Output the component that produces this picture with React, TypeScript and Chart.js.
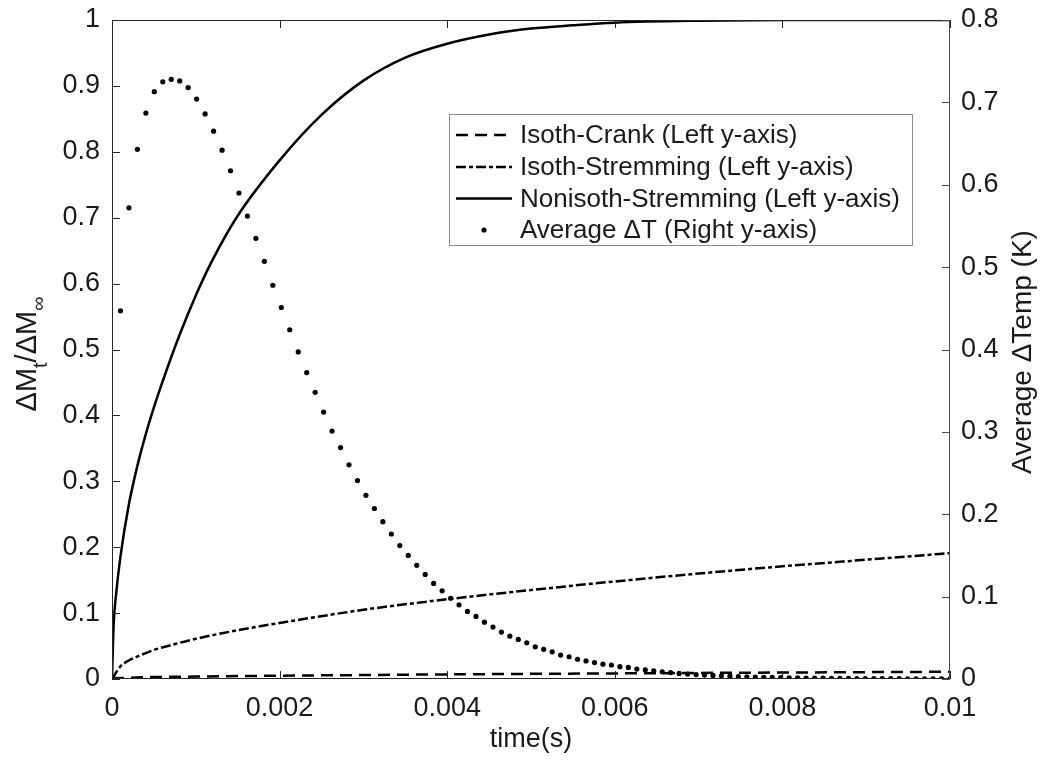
import { useEffect, useRef } from 'react';
import { Chart, registerables } from 'chart.js';

Chart.register(...registerables);

const FONT = '"Liberation Sans", Arial, Helvetica, sans-serif';
const INK = '#1a1a1a';

// Isoth-Crank uptake (left axis)
const crankTimes = [0, 0.0005, 0.001, 0.002, 0.003, 0.004, 0.005, 0.006, 0.007, 0.008, 0.009, 0.01];
const crankValues = [0.001, 0.003, 0.0037, 0.005, 0.006, 0.007, 0.0078, 0.0085, 0.0092, 0.0098, 0.0104, 0.011];

// Isoth-Stremming uptake (left axis)
const isoTimes = [0, 0.0001, 0.0002, 0.0003, 0.0005, 0.00075, 0.001, 0.0015, 0.002, 0.003, 0.004, 0.005, 0.006, 0.007, 0.008, 0.009, 0.01];
const isoValues = [0, 0.019, 0.028, 0.034, 0.044, 0.053, 0.061, 0.074, 0.085, 0.105, 0.121, 0.135, 0.148, 0.16, 0.171, 0.181, 0.191];

// Nonisoth-Stremming uptake (left axis)
const nonisoTimes = [0, 0.00002, 0.00005, 0.0001, 0.0002, 0.0003, 0.0004, 0.0005, 0.0006, 0.0008, 0.001, 0.0012, 0.0015, 0.002, 0.0025, 0.003, 0.0035, 0.004, 0.0045, 0.005, 0.0055, 0.006, 0.007, 0.008, 0.009, 0.01];
const nonisoValues = [0, 0.083, 0.13, 0.185, 0.264, 0.322, 0.37, 0.412, 0.45, 0.52, 0.582, 0.636, 0.703, 0.787, 0.856, 0.908, 0.943, 0.964, 0.978, 0.987, 0.992, 0.996, 0.999, 1, 1, 1];

// Average temperature rise (right axis), sampled on an even grid over 0..0.01 s
const TEMP_STEP = 0.01 / 99;
const tempValues = [
  0, 0.447, 0.572, 0.643, 0.687, 0.713, 0.725, 0.728, 0.726, 0.718,
  0.704, 0.686, 0.665, 0.642, 0.617, 0.59, 0.562, 0.535, 0.507, 0.478,
  0.451, 0.424, 0.397, 0.372, 0.348, 0.324, 0.301, 0.281, 0.26, 0.241,
  0.223, 0.207, 0.191, 0.176, 0.162, 0.15, 0.138, 0.127, 0.116, 0.107,
  0.098, 0.09, 0.082, 0.076, 0.069, 0.063, 0.057, 0.052, 0.048, 0.044,
  0.039, 0.036, 0.033, 0.029, 0.027, 0.024, 0.022, 0.02, 0.018, 0.017,
  0.015, 0.014, 0.012, 0.011, 0.01, 0.0088, 0.0078, 0.0068, 0.006, 0.0054,
  0.0048, 0.0043, 0.0038, 0.0034, 0.003, 0.0027, 0.0024, 0.0021, 0.0019, 0.0017,
  0.0015, 0.0013, 0.0012, 0.0011, 0.001, 0.0009, 0.0008, 0.0007, 0.0006, 0.0006,
  0.0005, 0.0005, 0.0004, 0.0004, 0.0003, 0.0003, 0.0003, 0.0002, 0.0002, 0.0002,
];

const seriesNames = [
  'Isoth-Crank (Left y-axis)',
  'Isoth-Stremming (Left y-axis)',
  'Nonisoth-Stremming (Left y-axis)',
  'Average \u0394T (Right y-axis)',
];

const xTickStep = 0.002;
const leftTickStep = 0.1;
const rightTickStep = 0.1;

const DASHED = [12, 7];
const DASH_DOT = [10, 3, 4, 3];

const pairs = (xs: number[], ys: number[]) => xs.map((x, i) => ({ x, y: ys[i] }));
const fmt = (v: number) => String(Number(Number(v).toFixed(4)));

// Box frame, inward tick marks, axis titles and legend, drawn over the plot
const decorations = {
  id: 'decorations',
  afterDatasetsDraw(chart: any) {
    const { ctx, chartArea: a, scales } = chart;
    const tick = 8;
    ctx.save();

    // frame
    ctx.lineWidth = 1;
    ctx.strokeStyle = '#262626';
    ctx.beginPath();
    ctx.moveTo(a.left + 0.5, a.top + 0.5);
    ctx.lineTo(a.right - 0.5, a.top + 0.5);
    ctx.moveTo(a.left + 0.5, a.top);
    ctx.lineTo(a.left + 0.5, a.bottom);
    ctx.moveTo(a.left, a.bottom - 0.5);
    ctx.lineTo(a.right, a.bottom - 0.5);
    ctx.stroke();
    ctx.strokeStyle = '#4a4a4a';
    ctx.beginPath();
    ctx.moveTo(a.right - 0.5, a.top);
    ctx.lineTo(a.right - 0.5, a.bottom);
    ctx.stroke();

    // inward ticks
    ctx.strokeStyle = '#262626';
    ctx.beginPath();
    for (const t of scales.x.ticks) {
      const px = Math.round(scales.x.getPixelForValue(t.value)) + 0.5;
      ctx.moveTo(px, a.bottom);
      ctx.lineTo(px, a.bottom - tick);
      ctx.moveTo(px, a.top);
      ctx.lineTo(px, a.top + tick);
    }
    for (const t of scales.y.ticks) {
      const py = Math.round(scales.y.getPixelForValue(t.value)) + 0.5;
      ctx.moveTo(a.left, py);
      ctx.lineTo(a.left + tick, py);
    }
    ctx.stroke();
    ctx.strokeStyle = '#4a4a4a';
    ctx.beginPath();
    for (const t of scales.y1.ticks) {
      const py = Math.round(scales.y1.getPixelForValue(t.value)) + 0.5;
      ctx.moveTo(a.right, py);
      ctx.lineTo(a.right - tick, py);
    }
    ctx.stroke();

    // axis titles
    ctx.fillStyle = INK;
    ctx.textBaseline = 'alphabetic';
    ctx.textAlign = 'center';
    ctx.font = `27px ${FONT}`;
    ctx.fillText('time(s)', (a.left + a.right) / 2, 747);

    // left title with subscripts
    const parts = [
      { t: '\u0394M', s: 29, d: 0 },
      { t: 't', s: 20, d: 11 },
      { t: '/\u0394M', s: 29, d: 0 },
      { t: '\u221E', s: 20, d: 9 },
    ];
    ctx.save();
    ctx.translate(36, 354);
    ctx.rotate(-Math.PI / 2);
    ctx.textAlign = 'left';
    let total = 0;
    for (const p of parts) {
      ctx.font = `${p.s}px ${FONT}`;
      total += ctx.measureText(p.t).width;
    }
    let cx = -total / 2;
    for (const p of parts) {
      ctx.font = `${p.s}px ${FONT}`;
      ctx.fillText(p.t, cx, p.d);
      cx += ctx.measureText(p.t).width;
    }
    ctx.restore();

    // right title
    ctx.save();
    ctx.translate(1031, 352);
    ctx.rotate(-Math.PI / 2);
    ctx.textAlign = 'center';
    ctx.font = `28px ${FONT}`;
    ctx.fillText('Average \u0394Temp (K)', 0, 0);
    ctx.restore();

    // legend
    const box = { x: 449.5, y: 114.5, w: 463, h: 131 };
    ctx.fillStyle = '#ffffff';
    ctx.fillRect(box.x, box.y, box.w, box.h);
    ctx.strokeStyle = '#8c8c8c';
    ctx.lineWidth = 1;
    ctx.strokeRect(box.x, box.y, box.w, box.h);
    const rows = [135, 167, 198.5, 230];
    const sx0 = 456;
    const sx1 = 512;
    ctx.strokeStyle = '#000';
    ctx.lineWidth = 2.5;
    const dashes = [DASHED, DASH_DOT, []];
    for (let i = 0; i < 3; i++) {
      ctx.setLineDash(dashes[i]);
      ctx.beginPath();
      ctx.moveTo(sx0, rows[i]);
      ctx.lineTo(sx1, rows[i]);
      ctx.stroke();
    }
    ctx.setLineDash([]);
    ctx.fillStyle = '#000';
    ctx.beginPath();
    ctx.arc((sx0 + sx1) / 2, rows[3], 2.6, 0, Math.PI * 2);
    ctx.fill();
    ctx.fillStyle = INK;
    ctx.font = `26px ${FONT}`;
    ctx.textAlign = 'left';
    ctx.textBaseline = 'middle';
    seriesNames.forEach((name, i) => ctx.fillText(name, 520, rows[i] + 1));

    ctx.restore();
  },
};

export default function App() {
  const canvasRef = useRef<HTMLCanvasElement | null>(null);

  useEffect(() => {
    const canvas = canvasRef.current;
    if (!canvas) return;
    const tickFont = { family: FONT, size: 27 };
    const lineCommon = {
      borderColor: '#000',
      backgroundColor: '#000',
      borderWidth: 2.5,
      pointRadius: 0,
      fill: false,
      cubicInterpolationMode: 'monotone' as const,
      yAxisID: 'y',
    };
    const chart = new Chart(canvas, {
      type: 'line',
      data: {
        datasets: [
          { ...lineCommon, label: seriesNames[0], data: pairs(crankTimes, crankValues), borderDash: DASHED },
          { ...lineCommon, label: seriesNames[1], data: pairs(isoTimes, isoValues), borderDash: DASH_DOT },
          { ...lineCommon, label: seriesNames[2], data: pairs(nonisoTimes, nonisoValues) },
          {
            label: seriesNames[3],
            data: tempValues.map((v, i) => ({ x: i * TEMP_STEP, y: v })),
            showLine: false,
            pointRadius: 2.6,
            pointBorderWidth: 0,
            pointBackgroundColor: '#000',
            borderColor: '#000',
            yAxisID: 'y1',
          },
        ],
      },
      options: {
        animation: false,
        responsive: false,
        maintainAspectRatio: false,
        events: [],
        layout: { padding: { top: 20, left: 0, right: 0, bottom: 0 } },
        plugins: { legend: { display: false }, tooltip: { enabled: false } },
        scales: {
          x: {
            type: 'linear',
            min: 0,
            max: 0.01,
            grid: { display: false, drawTicks: false },
            border: { display: false },
            ticks: { stepSize: xTickStep, font: tickFont, color: INK, padding: 13, maxRotation: 0, callback: (v: any) => fmt(v) },
            afterFit: (s: any) => { s.height = 89; s.paddingLeft = 0; s.paddingRight = 0; },
          },
          y: {
            position: 'left',
            min: 0,
            max: 1,
            grid: { display: false, drawTicks: false },
            border: { display: false },
            ticks: { stepSize: leftTickStep, font: tickFont, color: INK, padding: 12, callback: (v: any) => fmt(v) },
            afterFit: (s: any) => { s.width = 112; s.paddingTop = 0; s.paddingBottom = 0; },
          },
          y1: {
            position: 'right',
            min: 0,
            max: 0.8,
            grid: { display: false, drawTicks: false },
            border: { display: false },
            ticks: { stepSize: rightTickStep, font: tickFont, color: INK, padding: 11, callback: (v: any) => fmt(v) },
            afterFit: (s: any) => { s.width = 100; s.paddingTop = 0; s.paddingBottom = 0; },
          },
        },
      },
      plugins: [decorations],
    } as any);
    return () => chart.destroy();
  }, []);

  return (
    <div style={{ position: 'absolute', left: 0, top: 0, width: 1050, height: 768, background: '#fff' }}>
      <canvas ref={canvasRef} width={1050} height={768} style={{ display: 'block' }} />
    </div>
  );
}
